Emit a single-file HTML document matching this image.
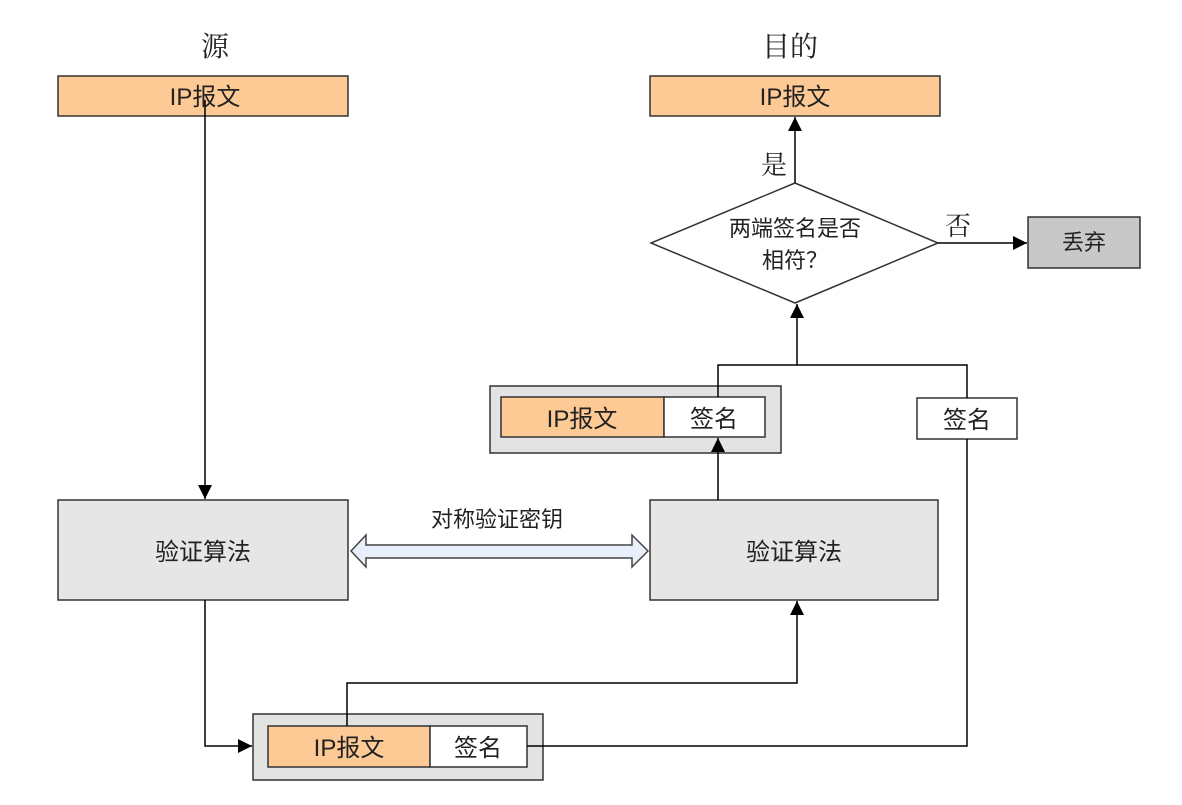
<!DOCTYPE html>
<html><head><meta charset="utf-8"><style>
html,body{margin:0;padding:0;background:#fff}
svg{display:block}
text{font-family:"Liberation Sans","Noto Sans CJK SC",sans-serif;fill:#222}
.s{font-family:"Liberation Serif","Noto Serif CJK SC",serif}
</style></head><body>
<svg width="1182" height="805" viewBox="0 0 1182 805" xmlns="http://www.w3.org/2000/svg">
<defs>
<marker id="a" markerWidth="14" markerHeight="14" refX="14" refY="7" orient="auto" markerUnits="userSpaceOnUse">
<path d="M0,0 L14,7 L0,14 z" fill="#000"/></marker>
</defs>
<g stroke="#333" stroke-width="1.5">
<rect x="58" y="76" width="290" height="40" fill="#fdc994"/>
<rect x="650" y="76" width="290" height="40" fill="#fdc994"/>
<rect x="58" y="500" width="290" height="100" fill="#e6e6e6"/>
<rect x="650" y="500" width="288" height="100" fill="#e6e6e6"/>
<rect x="253" y="714" width="290" height="66" fill="#e3e3e3"/>
<rect x="268" y="726" width="162" height="41" fill="#fdc994"/>
<rect x="430" y="726" width="97" height="41" fill="#fff"/>
<rect x="490" y="386" width="291" height="67" fill="#e3e3e3"/>
<rect x="501" y="397" width="163" height="40" fill="#fdc994"/>
<rect x="664" y="397" width="101" height="40" fill="#fff"/>
<rect x="917" y="398" width="100" height="41" fill="#fff"/>
<polygon points="795,183 938,243 795,303 651,243" fill="#fff"/>
<rect x="1028" y="217" width="112" height="51" fill="#c8c8c8"/>
</g>
<g stroke="#000" stroke-width="1.5" fill="none">
<path d="M205,100 V499" marker-end="url(#a)"/>
<path d="M205,600 V746 H252" marker-end="url(#a)"/>
<path d="M347,726 V683 H797 V601" marker-end="url(#a)"/>
<path d="M527,746 H967 V439"/>
<path d="M967,398 V365 H718 V397"/>
<path d="M797,365 V304" marker-end="url(#a)"/>
<path d="M718,500 V438" marker-end="url(#a)"/>
<path d="M795,183 V117" marker-end="url(#a)"/>
<path d="M938,243 H1027" marker-end="url(#a)"/>
</g>
<path d="M351,551 L366,535 L366,545 L632,545 L632,535 L648,551 L632,567 L632,558 L366,558 L366,567 Z" fill="#e8eefa" stroke="#444" stroke-width="1.5"/>
<g font-size="24" text-anchor="middle">
<text x="215" y="56" font-size="28" class="s">源</text>
<text x="790" y="56" font-size="28" class="s">目的</text>
<text x="205" y="105">IP报文</text>
<text x="795" y="105">IP报文</text>
<text x="203" y="560">验证算法</text>
<text x="794" y="560">验证算法</text>
<text x="349" y="756">IP报文</text>
<text x="478" y="756">签名</text>
<text x="582" y="427">IP报文</text>
<text x="714" y="427">签名</text>
<text x="967" y="428">签名</text>
<text x="958" y="235" font-size="26" class="s">否</text>
<text x="774" y="174" font-size="26" class="s">是</text>
</g>
<g font-size="22" text-anchor="middle">
<text x="497" y="527">对称验证密钥</text>
<text x="795" y="236">两端签名是否</text>
<text x="795" y="268">相符？</text>
<text x="1084" y="250">丢弃</text>
</g>
</svg>
</body></html>
